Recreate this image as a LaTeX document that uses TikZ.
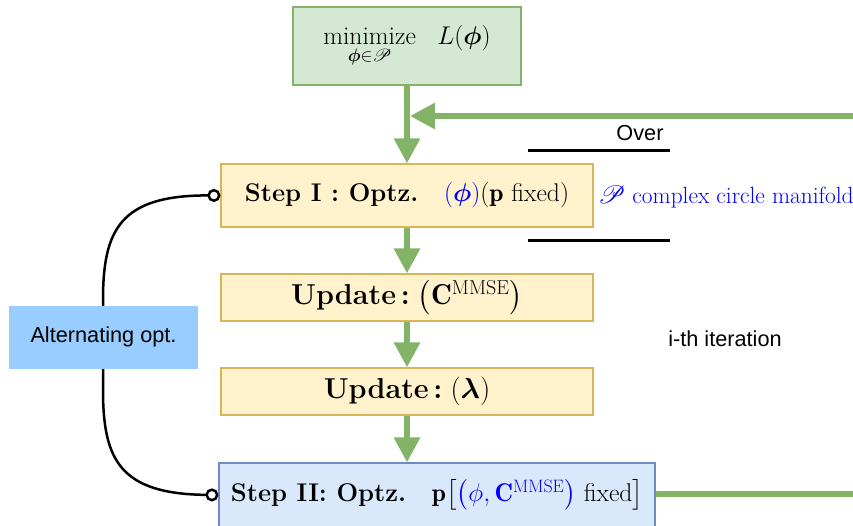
\documentclass[tikz,border=0pt]{standalone}
\RequirePackage{fix-cm}
\usepackage{amsmath,amssymb,bm}
\usepackage{mathrsfs}
\usepackage{fontspec}
\newfontfamily\labelfont{Liberation Sans}
\usetikzlibrary{arrows.meta}

\definecolor{flowgreen}{HTML}{82B366}
\definecolor{goalfill}{HTML}{D5E8D4}
\definecolor{stepfill}{HTML}{FFF2CC}
\definecolor{stepdraw}{HTML}{D6B656}
\definecolor{lastfill}{HTML}{DAE8FC}
\definecolor{lastdraw}{HTML}{6C8EBF}
\definecolor{altfill}{HTML}{99CCFF}
\definecolor{notecol}{HTML}{0000FF}

\newcommand\goalfont{\fontsize{25.6}{31}\selectfont}
\newcommand\stepfont{\fontsize{25.6}{31}\selectfont}
\newcommand\updfont{\fontsize{28.8}{34}\selectfont}
\newcommand\notefont{\fontsize{23.4}{28}\selectfont}
\newcommand\sansfont{\labelfont\fontsize{21.7}{26}\selectfont}

\tikzset{
  stepbox/.style={draw=stepdraw, fill=stepfill, line width=1.2pt,
    minimum width=372pt, minimum height=47pt, inner sep=0pt, font=\updfont},
  goalbox/.style={draw=flowgreen, fill=goalfill, line width=1.2pt,
    minimum width=228pt, minimum height=78pt, inner sep=0pt, font=\goalfont},
  lastbox/.style={draw=lastdraw, fill=lastfill, line width=1.2pt,
    minimum width=436pt, minimum height=64pt, inner sep=0pt, font=\stepfont},
  altbox/.style={fill=altfill, minimum width=189pt, minimum height=63pt,
    inner sep=0pt, font=\sansfont},
  plain/.style={inner sep=0pt, font=\sansfont},
  flow/.style={draw=flowgreen, line width=6pt,
    -{Triangle[length=25pt,width=25pt]}},
  loopline/.style={draw=flowgreen, line width=6pt},
  link/.style={draw=black, line width=2.5pt,
    {Circle[open,length=13pt,width=13pt]}-{Circle[open,length=13pt,width=13pt]}},
  rule/.style={draw=black, line width=3pt}
}

\begin{document}
\begin{tikzpicture}[x=1pt,y=-1pt]
  \useasboundingbox (0,0) rectangle (853,526);

  % objective and the two-step loop
  \node[goalbox] (goal) at (407,46)
    {$\underset{\bm{\phi}\in\mathscr{P}}{\mathrm{minimize}}\;\;\; L(\bm{\phi})$};
  \node[stepbox, minimum height=63pt, font=\stepfont] (s1) at (407,195.5)
    {\textbf{Step I :\ Optz.}\quad{\color{notecol}$(\bm{\phi})$}$(\mathbf{p}$ fixed$)$};
  \node[stepbox] (upc) at (407,297.5)
    {\textbf{Update\,:}\;$\bigl(\mathbf{C}^{\mathrm{MMSE}}\bigr)$};
  \node[stepbox] (upl) at (407,391.5)
    {\textbf{Update\,:}\;$(\bm{\lambda})$};
  \node[lastbox] (s2) at (437,495)
    {\textbf{Step II: Optz.}\quad$\mathbf{p}\bigl[{\color{notecol}\bigl(\phi,\mathbf{C}^{\mathrm{MMSE}}\bigr)}$ fixed$\bigr]$};

  % notes on the right
  \node[anchor=west, inner sep=0pt, font=\notefont, text=notecol] (mani) at (598,197)
    {$\mathscr{P}$ complex circle manifold};
  \node[plain] (over) at (640,133) {Over};
  \node[plain] (iter) at (725,339) {i-th iteration};
  \draw[rule] (528,151) -- (670,151);
  \draw[rule] (528,241) -- (670,241);

  % alternating link between the two steps
  \draw[link] (s1.west) .. controls (120,195) and (103,230) .. (103,300)
    -- (103,390) .. controls (103,460) and (120,494) .. (s2.west);
  \node[altbox] (alt) at (103.5,337) {Alternating opt.};

  % main flow
  \coordinate (loopin) at (853,116);
  \coordinate (merge) at (410,116);
  \coordinate (loopout) at (853,494);
  \draw[flow] (goal.south) -- (s1.north);
  \draw[flow] (s1.south) -- (upc.north);
  \draw[flow] (upc.south) -- (upl.north);
  \draw[flow] (upl.south) -- (upl.south |- s2.north);
  \draw[flow] (loopin) -- (merge);
  \draw[loopline] (s2.east |- loopout) -- (loopout);
\end{tikzpicture}
\end{document}
